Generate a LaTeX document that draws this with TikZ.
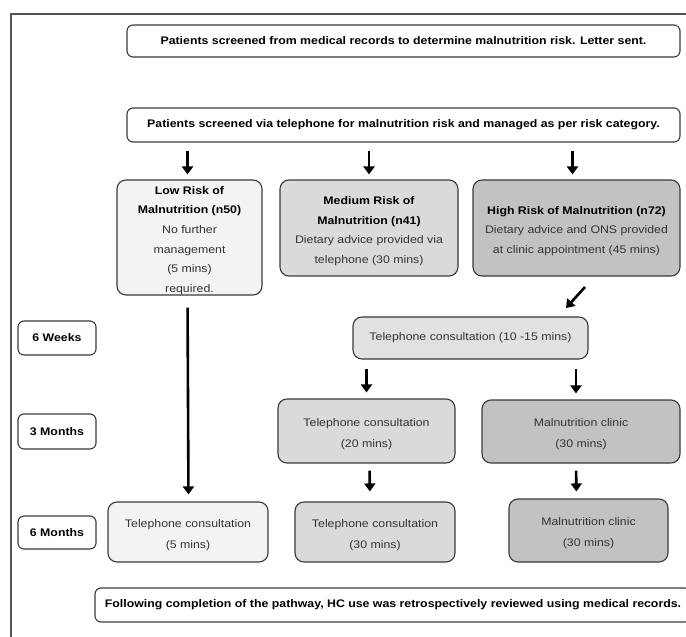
\documentclass[tikz,border=0pt]{standalone}
\usepackage{fontspec}
\setmainfont[FakeStretch=1.12]{Liberation Sans}
\usetikzlibrary{arrows.meta}
\definecolor{lowc}{HTML}{F3F3F3}
\definecolor{medc}{HTML}{DADADA}
\definecolor{highc}{HTML}{C2C2C2}
\definecolor{bordc}{HTML}{3A3A3A}
\definecolor{txtc}{HTML}{333333}
\definecolor{framec}{HTML}{555555}
\newcommand{\dnstrut}{\rule{0pt}{14pt}}
\tikzset{
  box/.style={draw=bordc, line width=1.1pt, rounded corners=9pt, align=center,
    inner sep=0pt, text=txtc, font=\fontsize{11}{19.6}\selectfont},
  twoline/.style={font=\fontsize{11}{21}\selectfont},
  headbox/.style={box, rounded corners=6pt, fill=white, text=black,
    font=\fontsize{11}{12}\selectfont\bfseries},
  tagbox/.style={headbox, minimum width=78pt},
  arr/.style={line width=2.6pt, -{Triangle[width=11pt,length=8pt]}, black}
}
\begin{document}
\begin{tikzpicture}[x=1pt,y=-1pt]
\clip (0,0) rectangle (686,637);
\fill[white] (0,0) rectangle (686,637);
\draw[framec, line width=1.4pt] (11,660) -- (11,14) -- (710,14);

\node[headbox, minimum width=553pt, minimum height=32pt] (box1) at (403.5,41)
  {Patients screened from medical records to determine malnutrition risk. Letter sent.};
\node[headbox, minimum width=553pt, minimum height=34pt] (box2) at (403.5,125)
  {Patients screened via telephone for malnutrition risk and managed as per risk category.};

\node[box, fill=lowc, minimum width=145pt, minimum height=115pt] (low) at (189.5,237.5)
  {\textbf{\color{black}\dnstrut Low Risk of}\\ \textbf{\color{black}Malnutrition (n50)}\\ No further\\ management\\ (5 mins)\\ required.};
\node[box, fill=medc, minimum width=178pt, minimum height=96pt] (med) at (369,228)
  {\textbf{\color{black}\dnstrut Medium Risk of}\\ \textbf{\color{black}Malnutrition (n41)}\\ Dietary advice provided via\\ telephone (30 mins)};
\node[box, fill=highc, minimum width=207pt, minimum height=96pt] (high) at (576.5,228)
  {\textbf{\color{black}\dnstrut High Risk of Malnutrition (n72)}\\ Dietary advice and ONS provided\\ at clinic appointment (45 mins)};

\node[box, fill=medc!80!white, minimum width=235pt, minimum height=42pt] (tel1015) at (470.5,338)
  {Telephone consultation (10 -15 mins)};
\node[box, twoline, fill=medc, minimum width=177pt, minimum height=64pt] (tel20) at (366.5,431)
  {\dnstrut Telephone consultation\\ (20 mins)};
\node[box, twoline, fill=highc, minimum width=198pt, minimum height=63pt] (mal3) at (581,431.5)
  {\dnstrut Malnutrition clinic\\ (30 mins)};
\node[box, twoline, fill=lowc, minimum width=160pt, minimum height=60pt] (tel5) at (188,532)
  {\dnstrut Telephone consultation\\ (5 mins)};
\node[box, twoline, fill=medc, minimum width=160pt, minimum height=60pt] (tel30) at (375,532)
  {\dnstrut Telephone consultation\\ (30 mins)};
\node[box, twoline, fill=highc, minimum width=159pt, minimum height=63pt] (mal6) at (588.5,530.5)
  {\dnstrut Malnutrition clinic\\ (30 mins)};

\node[tagbox, minimum height=34pt] (w6) at (57,338) {6 Weeks};
\node[tagbox, minimum height=35pt] (m3) at (57,431.5) {3 Months};
\node[tagbox, minimum height=33pt] (m6) at (57,532.5) {6 Months};

\node[headbox, minimum width=596pt, minimum height=34pt] (last) at (393,605)
  {Following completion of the pathway, HC use was retrospectively reviewed using medical records.};

\draw[arr, shorten <=8pt, shorten >=5pt] ([xshift=-2pt]box2.south -| low.north) -- ([xshift=-2pt]low.north);
\draw[arr, shorten <=8pt, shorten >=5pt] (box2.south -| med.north) -- (med.north);
\draw[arr, shorten <=8pt, shorten >=5pt] ([xshift=-4pt]box2.south -| high.north) -- ([xshift=-4pt]high.north);
\coordinate (d1) at (585,287);
\coordinate (d2) at (566,308);
\draw[arr] (d1) -- (d2);
\draw[arr, shorten <=12pt, shorten >=7pt] ([xshift=-2pt]low.south) -- ([xshift=-1pt]low.south |- tel5.north);
\draw[arr, shorten <=9pt, shorten >=6pt] (tel1015.south -| tel20.north) -- (tel20.north);
\draw[arr, shorten <=9pt, shorten >=6pt] ([xshift=-5pt]tel1015.south -| mal3.north) -- ([xshift=-5pt]mal3.north);
\draw[arr, shorten <=7pt, shorten >=10pt] ([xshift=3pt]tel20.south) -- ([xshift=-5pt]tel30.north);
\draw[arr, shorten <=7pt, shorten >=7pt] ([xshift=-5pt]mal3.south) -- ([xshift=-12pt]mal6.north);
\end{tikzpicture}
\end{document}
